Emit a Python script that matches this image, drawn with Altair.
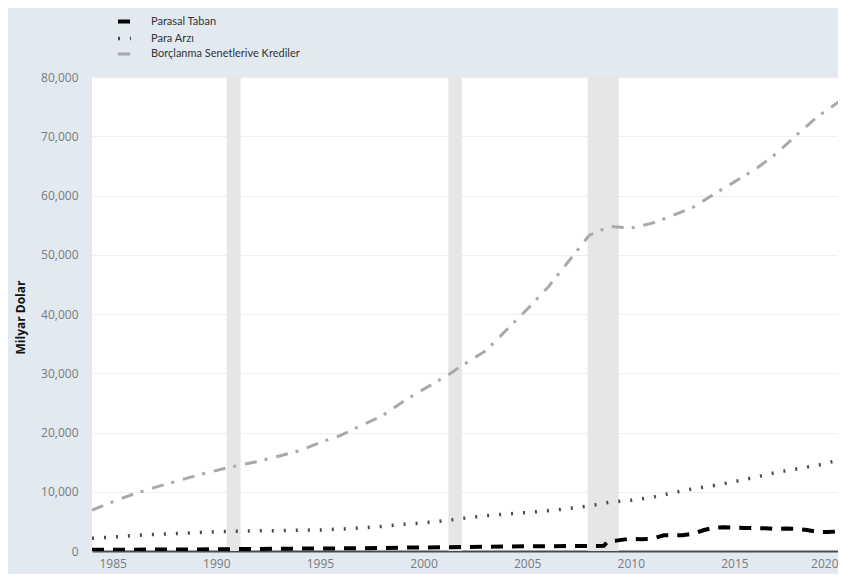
import altair as alt
import pandas as pd

series_names = ["Parasal Taban", "Para Arzı", "Borçlanma Senetlerive Krediler"]

base_years = [1984, 1985, 1986, 1987, 1988, 1989, 1990, 1991, 1992, 1993, 1994, 1995,
              1996, 1997, 1998, 1999, 2000, 2001, 2002, 2003, 2004, 2005, 2006, 2007,
              2008.0, 2008.7, 2008.9, 2009.3, 2009.9, 2010.5, 2011.0, 2011.6, 2012.0,
              2012.5, 2013.0, 2013.5, 2014.0, 2014.5, 2015.0, 2015.5, 2016.0, 2016.5,
              2017.0, 2017.5, 2018.0, 2018.5, 2019.0, 2019.5, 2020.0, 2020.2]
base_values = [190, 205, 225, 245, 260, 270, 290, 315, 345, 375, 405, 430,
               445, 475, 510, 580, 590, 640, 685, 725, 765, 790, 815, 830,
               830, 870, 1650, 1750, 2050, 2000, 2050, 2650, 2650,
               2650, 2900, 3500, 3950, 4000, 3950, 3900, 3850, 3850,
               3700, 3800, 3750, 3550, 3250, 3200, 3300, 3400]

m2_years = [1984, 1985, 1986, 1987, 1988, 1989, 1990, 1991, 1992, 1993, 1994, 1995,
            1996, 1997, 1998, 1999, 2000, 2001, 2002, 2003, 2004, 2005, 2006, 2007,
            2008, 2009, 2010, 2011, 2012, 2013, 2014, 2015, 2016, 2017, 2018, 2019, 2020.2]
m2_values = [2150, 2350, 2600, 2800, 2950, 3100, 3250, 3350, 3400, 3450, 3500, 3550,
             3700, 3900, 4150, 4500, 4750, 5100, 5550, 5950, 6250, 6500, 6800, 7150,
             7600, 8250, 8550, 9050, 9800, 10500, 11050, 11700, 12450, 13250, 13850, 14450, 15500]

credit_years = [1984, 1985, 1986, 1987, 1988, 1989, 1990, 1991, 1992, 1993, 1994, 1995,
                1996, 1997, 1998, 1999, 2000, 2001, 2002, 2003, 2004, 2005, 2006, 2007,
                2008, 2009, 2010, 2011, 2012, 2013, 2014, 2015, 2016, 2017, 2018, 2019, 2020.2]
credit_values = [6900, 8300, 9600, 10700, 11700, 12700, 13600, 14400, 15100, 16000, 16900, 18300,
                 19500, 21200, 22800, 25200, 27300, 29300, 31600, 33800, 37300, 40800, 44500, 48900,
                 53300, 54800, 54500, 55300, 56600, 58000, 60200, 62300, 64400, 67000, 70200, 73300, 76200]

rec_start = [1990.5, 2001.2, 2007.92]
rec_end = [1991.17, 2001.85, 2009.42]

rows = []
for name, ys, vs in [(series_names[0], base_years, base_values),
                     (series_names[1], m2_years, m2_values),
                     (series_names[2], credit_years, credit_values)]:
    for y, v in zip(ys, vs):
        rows.append({"year": y, "value": v, "series": name})
df = pd.DataFrame(rows)

rec = pd.DataFrame({"start": rec_start, "end": rec_end, "lo": 0, "hi": 80000})

FONT = "Open Sans"
xscale = alt.Scale(domain=[1984.0, 2020.0], nice=False, zero=False)
yscale = alt.Scale(domain=[0, 80000], nice=False)

bars = alt.Chart(rec).mark_rect(color="#e6e6e6").encode(
    x=alt.X("start:Q", scale=xscale),
    x2="end:Q",
    y=alt.Y("lo:Q", scale=yscale),
    y2="hi:Q",
)

lines = alt.Chart(df).mark_line(clip=True, strokeCap="butt").encode(
    x=alt.X("year:Q", scale=xscale,
            axis=alt.Axis(values=[1985, 1990, 1995, 2000, 2005, 2010, 2015, 2020],
                          format="d", title=None, grid=False, ticks=False,
                          labelPadding=7, labelFontSize=12, labelColor="#7a7a7a",
                          labelFont=FONT, domainColor="#4a4a4a", domainWidth=2,
                          labelFlush=True)),
    y=alt.Y("value:Q", scale=yscale,
            axis=alt.Axis(values=list(range(0, 80001, 10000)), format=",d",
                          title="Milyar Dolar", titleFont=FONT, titleFontSize=12,
                          titleFontWeight="bold", titleColor="#111111",
                          titleAngle=270, titleX=-72, titleY=240,
                          titleAlign="center", titleBaseline="middle",
                          ticks=False, domain=False, labelPadding=14,
                          labelFontSize=12, labelColor="#7a7a7a", labelFont=FONT,
                          gridColor="#efefef", gridWidth=1)),
    color=alt.Color("series:N",
                    scale=alt.Scale(domain=series_names, range=["#000000", "#4a4a4a", "#a9a9a9"]),
                    legend=alt.Legend(title=None, orient="none", legendX=24, legendY=-64,
                                      symbolType="stroke", symbolSize=169,
                                      labelFont="Lato", labelFontSize=11, labelColor="#333333",
                                      labelOffset=18, rowPadding=0, padding=0)),
    strokeDash=alt.StrokeDash("series:N",
                              scale=alt.Scale(domain=series_names,
                                              range=[[12, 9], [2, 10], [12, 8, 3, 9]])),
    strokeWidth=alt.StrokeWidth("series:N",
                                scale=alt.Scale(domain=series_names, range=[4, 3, 2.5])),
)

chart = alt.layer(bars, lines).properties(
    width=746, height=474,
    background="#e2e9f1",
    padding={"left": 84, "top": 69, "right": 0, "bottom": 23},
    autosize=alt.AutoSizeParams(type="none"),
).configure_view(fill="white", stroke=None)

chart.save("out.html", embed_options={"renderer": "svg", "actions": False})
